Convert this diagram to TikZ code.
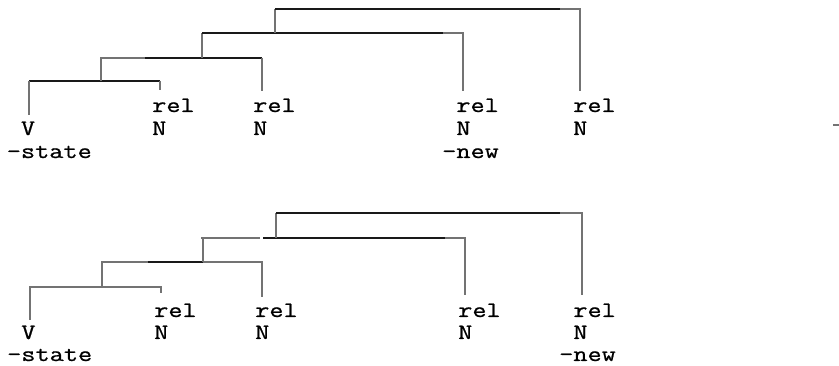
\documentclass[tikz,border=0pt]{standalone}
\usepackage{fontspec}
\newfontfamily\tw{Latin Modern Mono}[FakeStretch=1.25,FakeBold=0.8]
\begin{document}
\begin{tikzpicture}[x=1pt,y=-1pt,
  blk/.style={draw=black!90,line width=1.8pt},
  gry/.style={draw=black!55,line width=1.3pt},
  lbl/.style={inner sep=0pt,anchor=base west,font=\tw\fontsize{22}{23}\selectfont}]
\useasboundingbox (0,0) rectangle (839,366);
% ---------- top tree ----------
\coordinate (tV) at (29,115);
\coordinate (tL1) at (29,81);
\coordinate (tJ1) at (101,81);
\coordinate (tR1) at (160,81);
\coordinate (tR1e) at (160,90);
\coordinate (tL2) at (101,58);
\coordinate (tM2) at (145,58);
\coordinate (tJ2) at (202,58);
\coordinate (tR2) at (262,58);
\coordinate (tR2e) at (262,91);
\coordinate (tL3) at (202,33);
\coordinate (tJ3) at (275,33);
\coordinate (tM3) at (443,33);
\coordinate (tR3) at (463,33);
\coordinate (tR3e) at (463,91);
\coordinate (tL4) at (275,9);
\coordinate (tM4) at (560,9);
\coordinate (tR4) at (580,9);
\coordinate (tR4e) at (580,91);
\draw[blk] (tL1) -- (tR1);
\draw[gry] (tV) -- (tL1);
\draw[gry] (tR1) -- (tR1e);
\draw[gry] (tJ1) -- (tL2) -- (tM2);
\draw[blk] (tM2) -- (tR2);
\draw[gry] (tR2) -- (tR2e);
\draw[gry] (tJ2) -- (tL3);
\draw[blk] (tL3) -- (tM3);
\draw[gry] (tM3) -- (tR3) -- (tR3e);
\draw[gry] (tJ3) -- (tL4);
\draw[blk] (tL4) -- (tM4);
\draw[gry] (tM4) -- (tR4) -- (tR4e);
% labels top
\node[lbl] (t1a) at (6.6,135) {\phantom{-}V};
\node[lbl] (t1b) at (6.6,158) {-state};
\node[lbl] (t2a) at (152,112) {rel};
\node[lbl] (t2b) at (152,135) {N};
\node[lbl] (t3a) at (253,112) {rel};
\node[lbl] (t3b) at (253,135) {N};
\node[lbl] (t4a) at (442,112) {\phantom{-}rel};
\node[lbl] (t4b) at (442,135) {\phantom{-}N};
\node[lbl] (t4c) at (442,158) {-new};
\node[lbl] (t5a) at (573,112) {rel};
\node[lbl] (t5b) at (573,135) {N};
% stray mark
\coordinate (sA) at (833,125);
\coordinate (sB) at (839,125);
\draw[gry] (sA) -- (sB);
% ---------- bottom tree ----------
\coordinate (bV) at (30,320);
\coordinate (bL1) at (30,287);
\coordinate (bJ1) at (102,287);
\coordinate (bR1) at (161,287);
\coordinate (bR1e) at (161,293);
\coordinate (bL2) at (102,262);
\coordinate (bM2a) at (148,262);
\coordinate (bJ2) at (203,262);
\coordinate (bR2) at (262,262);
\coordinate (bR2e) at (262,297);
\coordinate (bJ2t) at (203,238);
\coordinate (bL3) at (201,238);
\coordinate (bG3a) at (260,238);
\coordinate (bG3b) at (263,238);
\coordinate (bJ3) at (276,238);
\coordinate (bM3) at (445,238);
\coordinate (bR3) at (465,238);
\coordinate (bR3e) at (465,295);
\coordinate (bL4) at (276,213);
\coordinate (bM4) at (560,213);
\coordinate (bR4) at (582,213);
\coordinate (bR4e) at (582,295);
\draw[gry] (bV) -- (bL1) -- (bR1) -- (bR1e);
\draw[gry] (bJ1) -- (bL2) -- (bM2a);
\draw[blk] (bM2a) -- (bJ2);
\draw[gry] (bJ2) -- (bR2) -- (bR2e);
\draw[gry] (bJ2) -- (bJ2t);
\draw[gry] (bL3) -- (bG3a);
\draw[blk] (bG3b) -- (bM3);
\draw[gry] (bM3) -- (bR3) -- (bR3e);
\draw[gry] (bJ3) -- (bL4);
\draw[blk] (bL4) -- (bM4);
\draw[gry] (bM4) -- (bR4) -- (bR4e);
% labels bottom
\node[lbl] (b1a) at (7,339) {\phantom{-}V};
\node[lbl] (b1b) at (7,361) {-state};
\node[lbl] (b2a) at (154,317) {rel};
\node[lbl] (b2b) at (154,339) {N};
\node[lbl] (b3a) at (255,317) {rel};
\node[lbl] (b3b) at (255,339) {N};
\node[lbl] (b4a) at (458,317) {rel};
\node[lbl] (b4b) at (458,339) {N};
\node[lbl] (b5a) at (559,317) {\phantom{-}rel};
\node[lbl] (b5b) at (559,339) {\phantom{-}N};
\node[lbl] (b5c) at (559,361) {-new};
\end{tikzpicture}
\end{document}
